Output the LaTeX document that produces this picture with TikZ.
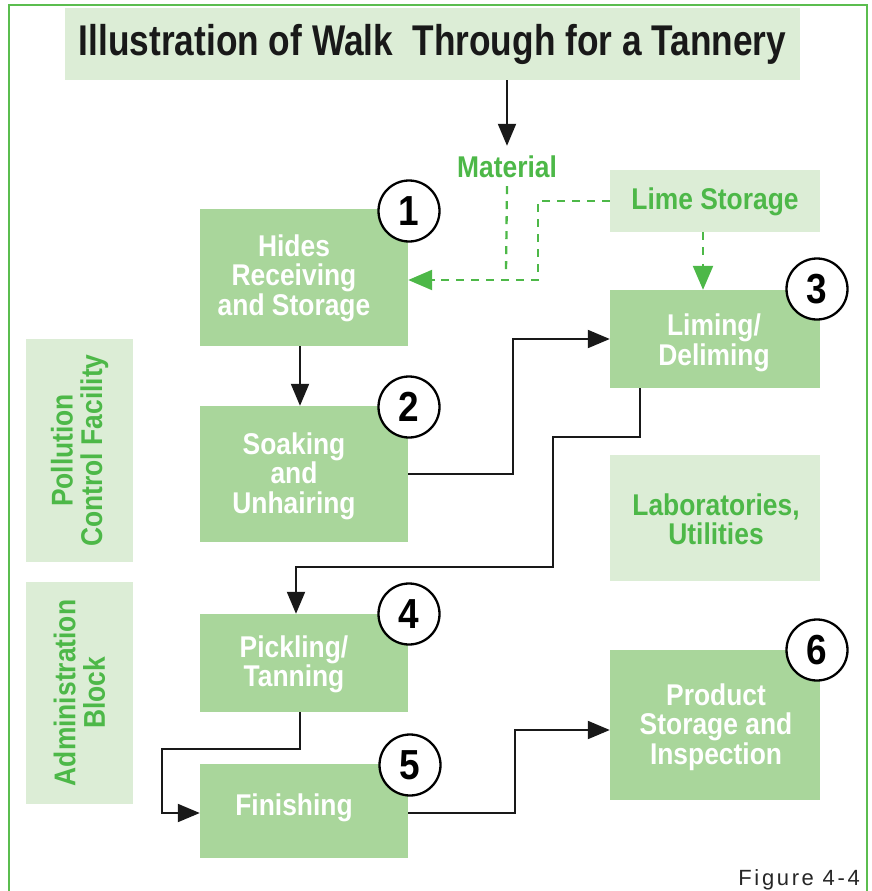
\documentclass[tikz,border=0pt]{standalone}
\usepackage{fontspec}
\setmainfont{Liberation Sans}
\newfontfamily\cond{Liberation Sans}[FakeStretch=0.88]
\newfontfamily\tcond{Liberation Sans}[FakeStretch=0.82]
\newfontfamily\figfont{Liberation Sans}[LetterSpace=12]
\usetikzlibrary{arrows.meta}
\definecolor{boxgreen}{HTML}{A9D69B}
\definecolor{palegreen}{HTML}{DCEDD6}
\definecolor{txtgreen}{HTML}{4DB848}
\definecolor{framegreen}{HTML}{5BBD4F}
\tikzset{
  box/.style={fill=boxgreen, inner sep=0pt, minimum width=208pt},
  boxtext/.style={text=white, inner sep=0pt, align=center,
    font=\cond\bfseries\fontsize{30}{29.5}\selectfont},
  pale/.style={fill=palegreen, inner sep=0pt},
  paletext/.style={text=txtgreen, inner sep=0pt, align=center,
    font=\cond\bfseries\fontsize{30}{29.5}\selectfont},
  num/.style={circle, draw=black, line width=2.3pt, fill=white, minimum size=61pt,
    inner sep=0pt, font=\cond\bfseries\fontsize{42}{42}\selectfont},
  arr/.style={draw=black!90, line width=2pt, -{Triangle[length=22pt,width=18pt]}},
  garr/.style={draw=txtgreen, line width=2.3pt, dash pattern=on 8pt off 7pt},
  gtip/.style={draw=txtgreen, line width=2.3pt, -{Triangle[length=24pt,width=20pt]}},
}
\begin{document}
\begin{tikzpicture}[x=1pt,y=-1pt]
\useasboundingbox (0,0) rectangle (871,891);
% frame
\draw[framegreen, line width=2.8pt] (9,893) -- (9,5) -- (867,5) -- (867,893);
% title
\node[fill=palegreen, minimum width=735pt, minimum height=72pt, inner sep=0pt,
  font=\tcond\bfseries\fontsize{43}{43}\selectfont, text=black!90] (title) at (432.5,44) {Illustration of Walk\ \ Through for a Tannery};
% side boxes
\node[pale, minimum width=107pt, minimum height=223pt] (poll) at (79.5,450.5) {};
\node[paletext, rotate=90] (pollt) at (poll.center) {Pollution\\Control Facility};
\node[pale, minimum width=107pt, minimum height=222pt] (admin) at (79.5,693) {};
\node[paletext, rotate=90] (admint) at (admin.center) {Administration\\Block};
% process boxes
\node[box, minimum height=137pt] (b1) at (304,277.5) {};
\node[boxtext] (b1t) at (294,278) {Hides\\Receiving\\and Storage};
\node[box, minimum height=136pt] (b2) at (304,474) {};
\node[boxtext] (b2t) at (294,476) {Soaking\\and\\Unhairing};
\node[box, minimum width=210pt, minimum height=98pt] (b3) at (715,339) {};
\node[boxtext] (b3t) at (714,343) {Liming/\\Deliming};
\node[box, minimum height=98pt] (b4) at (304,663) {};
\node[boxtext] (b4t) at (294,664.5) {Pickling/\\Tanning};
\node[box, minimum height=94pt] (b5) at (304,811) {};
\node[boxtext] (b5t) at (294,808) {Finishing};
\node[box, minimum width=210pt, minimum height=150pt] (b6) at (715,725) {};
\node[boxtext] (b6t) at (716,727) {Product\\Storage and\\Inspection};
\node[pale, minimum width=210pt, minimum height=126pt] (lab) at (715,518) {};
\node[paletext] (labt) at (716,519.5) {Laboratories,\\Utilities};
\node[pale, minimum width=210pt, minimum height=62pt] (lime) at (715,201) {};
\node[paletext] (limet) at (715,202) {Lime Storage};
\node[paletext] (mat) at (507,167) {Material};
% numbers
\node[num] (n1) at (409,211) {1};
\node[num] (n2) at (409,407) {2};
\node[num] (n3) at (817,289) {3};
\node[num] (n4) at (409,614) {4};
\node[num] (n5) at (410,765) {5};
\node[num] (n6) at (817,650) {6};
% connectors
\draw[arr] (title.south -| mat) -- ([yshift=10pt]mat.north);
\coordinate (lj) at (538,280);
\draw[garr] ([yshift=-8pt]mat.south) -- (506,272);
\draw[garr] (lime.west) -| (lj) -- ([xshift=26pt,yshift=-2.5pt]b1.east);
\draw[gtip] ([xshift=27pt,yshift=-2.5pt]b1.east) -- ([yshift=-2.5pt]b1.east);
\draw[garr] ([xshift=-12pt]lime.south) -- ([xshift=-12pt,yshift=-28pt]lime.south);
\draw[gtip] ([xshift=-12pt,yshift=26pt]b3.north) -- ([xshift=-12pt]b3.north);
\draw[arr] ([xshift=-4pt]b1.south) -- ([xshift=-4pt]b2.north);
\draw[arr] (b2.east) -- ++(105,0) |- (b3.west);
\draw[arr] ([xshift=-75pt]b3.south) -- ++(0,49) -| (553,567) -| ([xshift=-8pt]b4.north);
\draw[arr] ([xshift=-4pt]b4.south) -- ++(0,37) -| ([xshift=-38pt,yshift=-2pt]b5.west) -- ([yshift=-2pt]b5.west);
\draw[arr] ([yshift=-2pt]b5.east) -- ++(107,0) |- ([yshift=-5pt]b6.west);
% figure label
\node[anchor=base east, inner sep=0pt, font=\figfont\fontsize{22}{22}\selectfont, text=black!85] (fig) at (860,885) {Figure 4-4};
\end{tikzpicture}
\end{document}
